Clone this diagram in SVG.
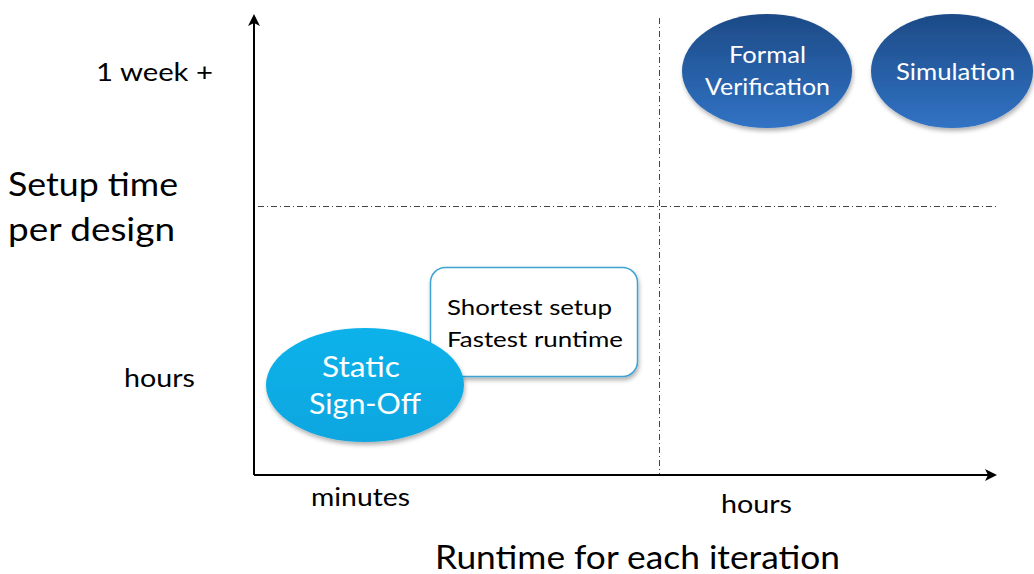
<svg xmlns="http://www.w3.org/2000/svg" width="1034" height="574" viewBox="0 0 1034 574">
<style>
.lbl{font-family:Lato,"Open Sans",sans-serif;fill:#000}
.wt{font-family:Lato,"Open Sans",sans-serif;fill:#fff;text-anchor:middle}
.axis{stroke:#000;stroke-width:2;fill:none}
.dash{stroke:#444;stroke-width:1;stroke-dasharray:6 3 1 3;fill:none}
</style>
<defs>
<linearGradient id="blue" x1="0" y1="0" x2="0" y2="1">
<stop offset="0" stop-color="#1d4a86"/>
<stop offset="1" stop-color="#3173c4"/>
</linearGradient>
<linearGradient id="cyan" x1="0" y1="0" x2="0" y2="1">
<stop offset="0" stop-color="#0db2ea"/>
<stop offset="1" stop-color="#0aa6e0"/>
</linearGradient>
<marker id="arr" viewBox="0 0 12 12" refX="10" refY="6" markerWidth="12" markerHeight="12" markerUnits="userSpaceOnUse" orient="auto">
<path d="M0,0 L12,6 L0,12 L3,6 Z" fill="#000"/>
</marker>
<filter id="sh" x="-20%" y="-20%" width="140%" height="150%">
<feDropShadow dx="1" dy="3" stdDeviation="2" flood-color="#000" flood-opacity="0.3"/>
</filter>
</defs>
<g id="connectors">
<line class="dash" x1="659.5" y1="18" x2="659.5" y2="475"/>
<line class="dash" x1="258" y1="206.5" x2="998" y2="206.5"/>
<line class="axis" x1="254" y1="475" x2="254" y2="16" marker-end="url(#arr)"/>
<line class="axis" x1="254" y1="475" x2="995" y2="475" marker-end="url(#arr)"/>
</g>
<g id="labels">
<text class="lbl" x="96" y="81" font-size="25" textLength="117" lengthAdjust="spacingAndGlyphs">1 week +</text>
<text class="lbl" x="8" y="196" font-size="33" textLength="170" lengthAdjust="spacingAndGlyphs">Setup time</text>
<text class="lbl" x="8" y="241" font-size="33" textLength="167" lengthAdjust="spacingAndGlyphs">per design</text>
<text class="lbl" x="124" y="387" font-size="25" textLength="71" lengthAdjust="spacingAndGlyphs">hours</text>
<text class="lbl" x="311" y="506" font-size="25" textLength="99" lengthAdjust="spacingAndGlyphs">minutes</text>
<text class="lbl" x="721" y="513" font-size="25" textLength="71" lengthAdjust="spacingAndGlyphs">hours</text>
<text class="lbl" x="435" y="569" font-size="33" textLength="405" lengthAdjust="spacingAndGlyphs">Runtime for each iteration</text>
</g>
<g id="formal">
<ellipse cx="767" cy="71" rx="85" ry="57" fill="url(#blue)" filter="url(#sh)"/>
<text class="wt" x="767.5" y="63" font-size="24" textLength="77" lengthAdjust="spacingAndGlyphs">Formal</text>
<text class="wt" x="767.5" y="95" font-size="24" textLength="125" lengthAdjust="spacingAndGlyphs">Verification</text>
</g>
<g id="simulation">
<ellipse cx="952" cy="71" rx="81" ry="57" fill="url(#blue)" filter="url(#sh)"/>
<text class="wt" x="955.5" y="80" font-size="24" textLength="119" lengthAdjust="spacingAndGlyphs">Simulation</text>
</g>
<g id="callout">
<rect x="430.5" y="267.5" width="207" height="109" rx="15" fill="#fff" stroke="#3ea3d3" stroke-width="1.5" filter="url(#sh)"/>
<text class="lbl" x="447" y="315" font-size="22" textLength="165" lengthAdjust="spacingAndGlyphs">Shortest setup</text>
<text class="lbl" x="447" y="347" font-size="22" textLength="176" lengthAdjust="spacingAndGlyphs">Fastest runtime</text>
</g>
<g id="static">
<ellipse cx="365" cy="385" rx="99" ry="57" fill="url(#cyan)" filter="url(#sh)"/>
<text class="wt" x="361" y="377" font-size="28" textLength="78" lengthAdjust="spacingAndGlyphs">Static</text>
<text class="wt" x="365" y="414" font-size="28" textLength="112" lengthAdjust="spacingAndGlyphs">Sign-Off</text>
</g>
</svg>
